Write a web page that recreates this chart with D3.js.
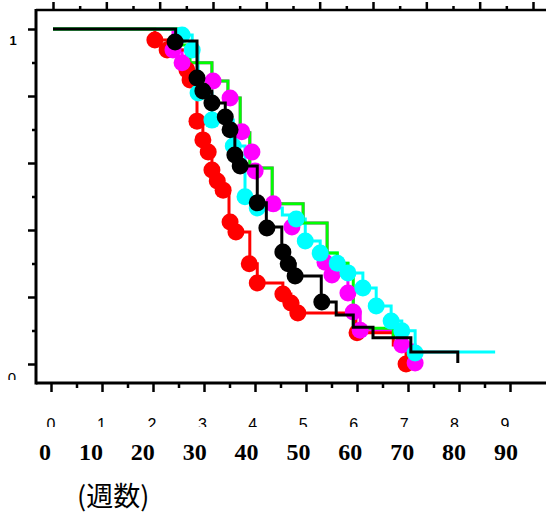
<!DOCTYPE html>
<html><head><meta charset="utf-8">
<script src="https://cdn.jsdelivr.net/npm/d3@7/dist/d3.min.js"></script>
<style>body{margin:0;background:#fff}svg{display:block}</style>
</head><body>
<svg id="c" width="546" height="513"></svg>
<script>
// ---- data ----
const weekTicks = [0,10,20,30,40,50,60,70,80,90];
const weekLabels = ["0","10","20","30","40","50","60","70","80","90"];
const smallLabels = ["0","1","2","3","4","5","6","7","8","9"];
const yTickLabels = ["0","1"];
const xUnitLabel = "(週数)";

// step lines (time in weeks, survival proportion)
const redT = [0,19.1,21.4,25.1,25.7,27.0,28.1,29.1,29.8,30.8,31.9,33.0,34.3,36.9,38.3,43.1,44.6,45.9,56.8,63.8,66.2];
const redS = [1,0.967,0.937,0.878,0.848,0.725,0.669,0.633,0.579,0.546,0.519,0.424,0.394,0.299,0.242,0.209,0.182,0.152,0.093,0.057,0.0];
const redMarkT = [19.1,21.4,25.1,25.7,27.0,28.1,29.1,29.8,30.8,31.9,33.2,34.3,36.8,38.3,43.1,44.6,45.9,57.0,66.2];
const redMarkS = [0.967,0.937,0.878,0.848,0.725,0.669,0.633,0.579,0.546,0.519,0.424,0.394,0.299,0.242,0.209,0.182,0.152,0.093,0.0];

const greenT = [0,23.8,25.7,29.8,32.8,35.1,36.9,41.1,46.9,51.4,53.3,55.3,56.3,63.8];
const greenS = [1,0.952,0.899,0.845,0.794,0.690,0.585,0.478,0.421,0.331,0.301,0.272,0.107,0.08];
const greenMarkT = [];
const greenMarkS = [];

const magentaT = [0,22.5,24.2,29.8,32.8,35.1,36.9,41.1,46.9,51.4,52.3,55.3,56.3,57.6,65.4,67.9];
const magentaS = [1,0.937,0.899,0.845,0.794,0.690,0.585,0.478,0.421,0.304,0.266,0.212,0.155,0.101,0.057,0.003];
const magentaMarkT = [22.5,24.2,30.0,33.2,35.4,37.3,37.9,41.3,44.8,51.0,52.3,55.3,56.3,57.6,65.4,67.9];
const magentaMarkS = [0.937,0.899,0.845,0.794,0.693,0.633,0.576,0.478,0.409,0.304,0.266,0.212,0.155,0.101,0.057,0.003];

const cyanT = [0,24.2,26.1,27.2,29.8,33.8,36.0,38.3,43.0,45.6,47.3,50.1,53.3,55.3,58.1,60.6,63.4,65.4,67.9,82.9];
const cyanS = [1,0.982,0.937,0.809,0.728,0.651,0.499,0.466,0.445,0.433,0.367,0.331,0.301,0.272,0.227,0.173,0.128,0.099,0.036,0.036];
const cyanMarkT = [24.2,26.1,27.2,29.8,33.8,36.0,38.3,45.6,47.3,50.1,53.3,55.3,58.1,60.6,63.4,65.4,67.9];
const cyanMarkS = [0.982,0.937,0.809,0.728,0.651,0.499,0.466,0.433,0.367,0.331,0.301,0.272,0.227,0.173,0.128,0.099,0.033];

const blackT = [0,23.0,27.0,28.1,29.8,32.3,33.2,34.1,35.1,38.3,40.0,42.9,44.1,45.4,50.3,53.1,56.3,60.0,67.1,75.9];
const blackS = [1,0.964,0.854,0.815,0.779,0.737,0.699,0.624,0.591,0.481,0.409,0.334,0.299,0.263,0.185,0.146,0.110,0.078,0.036,0.003];
const blackMarkT = [22.9,27.0,28.1,29.8,32.3,33.2,34.1,35.1,38.3,40.1,43.1,44.1,45.4,50.4];
const blackMarkS = [0.961,0.854,0.815,0.779,0.737,0.699,0.624,0.591,0.481,0.406,0.334,0.299,0.263,0.185];

const red = {color:"#ff0000", t:redT, s:redS, mt:redMarkT, ms:redMarkS};
const green = {color:"#00ff00", t:greenT, s:greenS, mt:greenMarkT, ms:greenMarkS};
const magenta = {color:"#ff00ff", t:magentaT, s:magentaS, mt:magentaMarkT, ms:magentaMarkS};
const cyan = {color:"#00ffff", t:cyanT, s:cyanS, mt:cyanMarkT, ms:cyanMarkS};
const black = {color:"#000000", t:blackT, s:blackS, mt:blackMarkT, ms:blackMarkS};

// ---- scales ----
const svg = d3.select("#c");
const x = d3.scaleLinear().domain([0,90]).range([53,533]);      // data + top axis
const y = d3.scaleLinear().domain([0,1]).range([364,29]);
const xb = d3.scaleLinear().domain([0,90]).range([51,510]);     // bottom axis ticks
const xSmall = d3.scaleLinear().domain([0,9]).range([51,505]);
const xBig = d3.scaleLinear().domain([0,90]).range([51,518]);

const plotLeft = 36, plotTop = 10, plotBottom = 383, W = 546;

// ---- series ----
const line = d3.line().x(d=>x(d[0])).y(d=>y(d[1])).curve(d3.curveStepAfter);
function drawLine(se){
  const pts = se.t.map((t,i)=>[t,se.s[i]]);
  svg.append("path").attr("d", line(pts)).attr("fill","none")
    .attr("stroke", se.color).attr("stroke-width",3);
}
function drawMarks(se){
  svg.append("g").selectAll("circle").data(se.mt.map((t,i)=>[t,se.ms[i]])).join("circle")
    .attr("cx",d=>x(d[0])).attr("cy",d=>y(d[1])).attr("r",8.5).attr("fill",se.color);
}
[magenta, red, cyan, green].forEach(drawLine);
[red, green, magenta, cyan, black].forEach(drawMarks);
drawLine(black);

// ---- axes ----
function styleAxis(g, w){
  g.select(".domain").remove();
  g.selectAll(".tick line").attr("stroke","#000").attr("stroke-width",w);
  g.selectAll(".tick text").remove();
}
const major = d3.range(0,91,10), minor = d3.range(5,90,10);
// top
svg.append("g").attr("transform",`translate(0,${plotTop})`)
  .call(d3.axisTop(x).tickValues(major).tickSize(8).tickFormat("")).call(g=>styleAxis(g,2.5));
svg.append("g").attr("transform",`translate(0,${plotTop})`)
  .call(d3.axisTop(x).tickValues(minor).tickSize(4).tickFormat("")).call(g=>styleAxis(g,2.5));
// bottom
svg.append("g").attr("transform",`translate(0,${plotBottom})`)
  .call(d3.axisBottom(xb).tickValues(major).tickSize(9).tickFormat("")).call(g=>styleAxis(g,2.5));
svg.append("g").attr("transform",`translate(0,${plotBottom})`)
  .call(d3.axisBottom(xb).tickValues(minor).tickSize(5).tickFormat("")).call(g=>styleAxis(g,2.5));
// left
svg.append("g").attr("transform",`translate(${plotLeft},0)`)
  .call(d3.axisLeft(y).tickValues([0,0.2,0.4,0.6,0.8,1]).tickSize(8).tickFormat("")).call(g=>styleAxis(g,2.5));
svg.append("g").attr("transform",`translate(${plotLeft},0)`)
  .call(d3.axisLeft(y).tickValues([0.1,0.3,0.5,0.7,0.9]).tickSize(4).tickFormat("")).call(g=>styleAxis(g,2.5));

// frame lines
svg.append("line").attr("x1",plotLeft).attr("x2",W).attr("y1",plotTop).attr("y2",plotTop)
  .attr("stroke","#000").attr("stroke-width",2.5);
svg.append("line").attr("x1",plotLeft).attr("x2",W).attr("y1",plotBottom).attr("y2",plotBottom)
  .attr("stroke","#000").attr("stroke-width",3);
svg.append("line").attr("x1",plotLeft).attr("x2",plotLeft).attr("y1",plotTop-1).attr("y2",plotBottom+1.5)
  .attr("stroke","#000").attr("stroke-width",3);

// ---- labels ----
const defs = svg.append("defs");
defs.append("clipPath").attr("id","clipY").append("rect").attr("x",0).attr("y",360).attr("width",30).attr("height",20);
defs.append("clipPath").attr("id","clipX").append("rect").attr("x",0).attr("y",405).attr("width",546).attr("height",22);

svg.append("text").text(yTickLabels[1]).attr("x",13).attr("y",45)
  .attr("text-anchor","middle").attr("font-family","Liberation Sans, Arial, sans-serif")
  .attr("font-size",13).attr("font-weight","bold");
svg.append("text").text(yTickLabels[0]).attr("x",12).attr("y",383).attr("clip-path","url(#clipY)")
  .attr("text-anchor","middle").attr("font-family","Liberation Sans, Arial, sans-serif")
  .attr("font-size",15);

svg.append("g").attr("clip-path","url(#clipX)").selectAll("text").data(smallLabels).join("text")
  .text(d=>d).attr("x",(d,i)=>xSmall(i)).attr("y",430).attr("text-anchor","middle")
  .attr("font-family","Liberation Sans, Arial, sans-serif").attr("font-size",16);

svg.append("g").selectAll("text").data(weekTicks).join("text")
  .text((d,i)=>weekLabels[i]).attr("x",d=>xBig(d)).attr("y",460).attr("text-anchor","end")
  .attr("font-family","Liberation Serif, 'DejaVu Serif', serif").attr("font-weight","bold").attr("font-size",24);

svg.append("text").text(xUnitLabel).attr("x",77).attr("y",506)
  .attr("font-family","'Noto Sans CJK JP', sans-serif").attr("font-size",27);
</script>
</body></html>
